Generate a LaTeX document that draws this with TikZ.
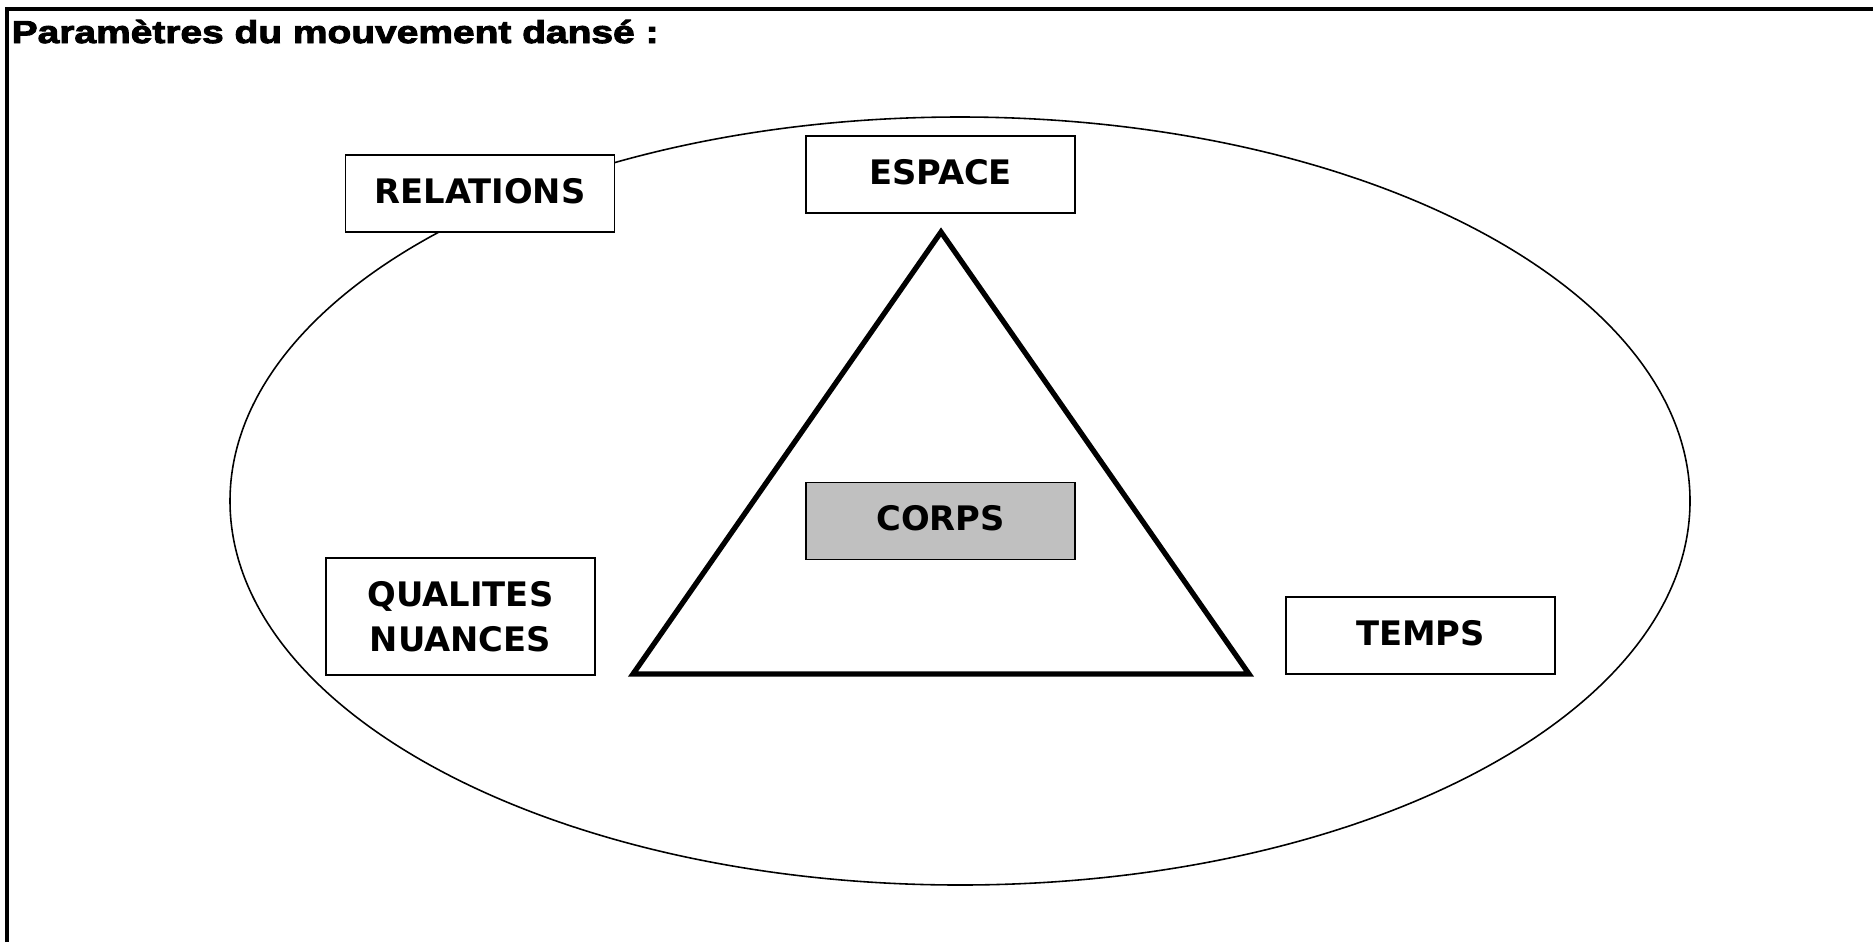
\documentclass[tikz,border=0pt]{standalone}
\usepackage{fontspec}
\setmainfont{DejaVu Sans}
\newfontfamily\titlefont{Liberation Sans}[BoldFeatures={FakeStretch=1.23,FakeBold=3}]

\begin{document}
\begin{tikzpicture}[x=0.01cm,y=-0.01cm,
    param/.style={draw,line width=0.45pt,fill=white,minimum width=2.69cm,minimum height=0.77cm,
        inner sep=0pt,text depth=0.06cm,align=center,font=\fontsize{9.6}{13}\selectfont\bfseries},
    corps/.style={param,fill={rgb,255:red,192;green,192;blue,192}}]
    \useasboundingbox (0,0) rectangle (1873,942);

    % cadre
    \draw[line width=0.9pt] (7,942) -- (7,9) -- (1873,9);
    \node (titre) [anchor=base west,inner sep=0pt,font=\titlefont\fontsize{9}{11}\selectfont\bfseries] at (11,43) {Paramètres du mouvement dansé :};

    % ellipse
    \draw[line width=0.45pt] (960,501) ellipse [x radius=730, y radius=384];

    % triangle
    \coordinate (sommet) at (941,232);
    \coordinate (gauche) at (633,674);
    \coordinate (droite) at (1249,674);
    \draw[line width=1.5pt,line join=miter] (sommet) -- (gauche) -- (droite) -- cycle;

    \node (relations) [param] at (480,193.5) {RELATIONS};
    \node (espace) [param] at (940.5,174.5) {ESPACE};
    \node (corps) [corps] at (940.5,521) {CORPS};
    \node (qualites) [param,text depth=0pt,minimum height=1.17cm] at (460.5,616.5) {QUALITES\\NUANCES};
    \node (temps) [param] at (1420.5,635.5) {TEMPS};
\end{tikzpicture}
\end{document}
